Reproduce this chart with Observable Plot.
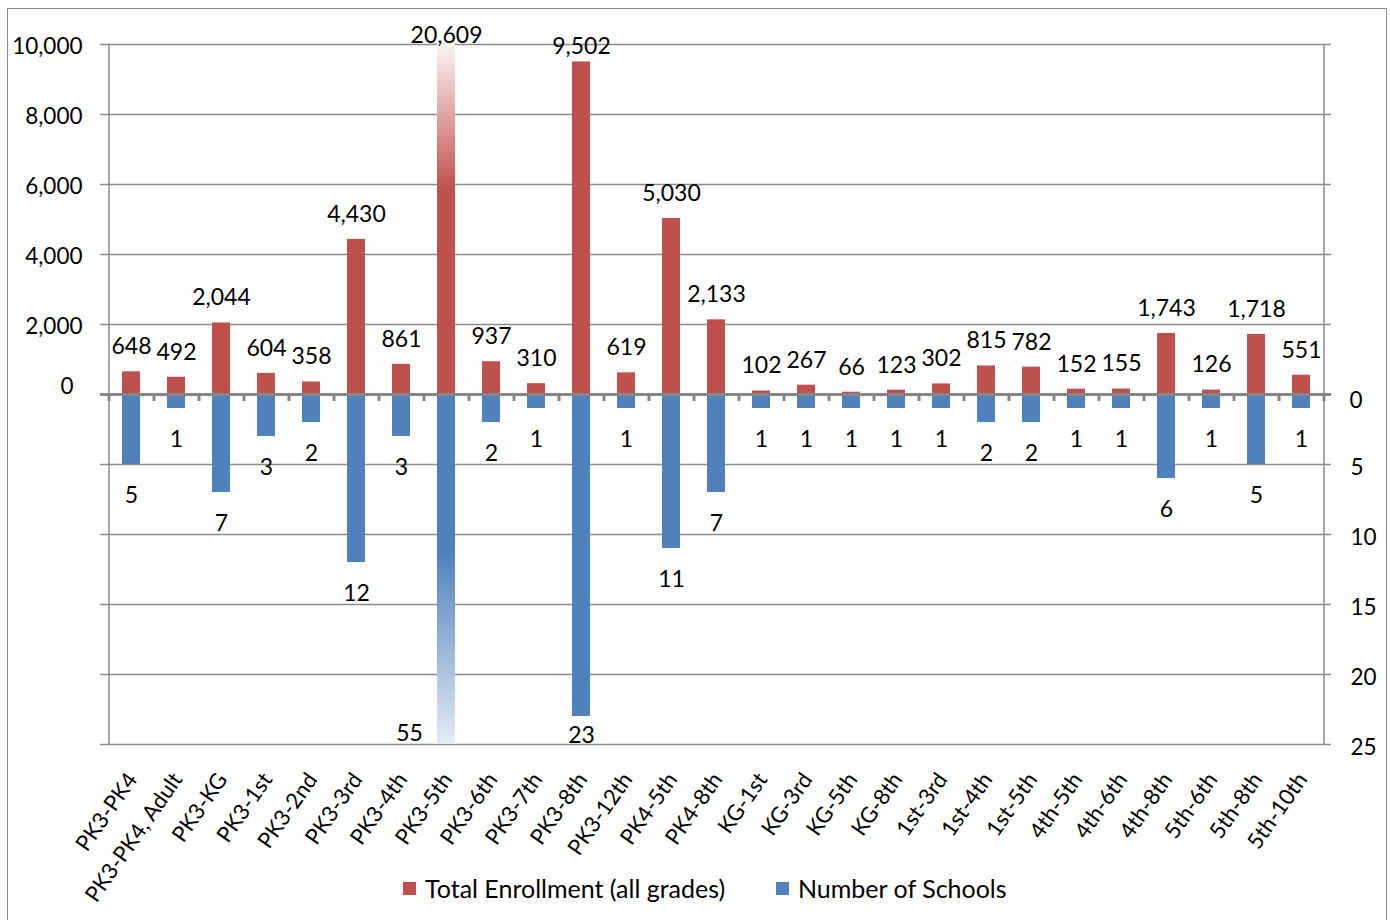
<!DOCTYPE html>
<html>
<head>
<meta charset="utf-8">
<script src="https://cdn.jsdelivr.net/npm/d3@7"></script>
<script src="https://cdn.jsdelivr.net/npm/@observablehq/plot@0.6"></script>
<style>
  html, body { margin: 0; padding: 0; background: #fff; }
  #wrap { position: relative; width: 1390px; height: 920px; overflow: hidden; font-family: Lato, "Open Sans", sans-serif; }
  #border { position: absolute; left: 7px; top: 8px; width: 1380px; height: 940px; border: 1.5px solid #8c8c8c; box-sizing: border-box; pointer-events: none; }
  #chart { position: absolute; left: 0; top: 0; }
  .lg-swatch { position: absolute; width: 13px; height: 13px; }
  .lg-text { position: absolute; font-size: 25px; line-height: 26px; color: #000; white-space: nowrap; }
</style>
</head>
<body>
<div id="wrap">
  <div id="chart"></div>
  <div id="legend"></div>
  <div id="border"></div>
</div>
<script>
// ---------- data ----------
const categories = ["PK3-PK4", "PK3-PK4, Adult", "PK3-KG", "PK3-1st", "PK3-2nd", "PK3-3rd", "PK3-4th",
  "PK3-5th", "PK3-6th", "PK3-7th", "PK3-8th", "PK3-12th", "PK4-5th", "PK4-8th", "KG-1st", "KG-3rd",
  "KG-5th", "KG-8th", "1st-3rd", "1st-4th", "1st-5th", "4th-5th", "4th-6th", "4th-8th", "5th-6th",
  "5th-8th", "5th-10th"];
const enrollment = [648, 492, 2044, 604, 358, 4430, 861, 20609, 937, 310, 9502, 619, 5030, 2133, 102,
  267, 66, 123, 302, 815, 782, 152, 155, 1743, 126, 1718, 551];
const schools = [5, 1, 7, 3, 2, 12, 3, 55, 2, 1, 23, 1, 11, 7, 1, 1, 1, 1, 1, 2, 2, 1, 1, 6, 1, 5, 1];
const seriesNames = ["Total Enrollment (all grades)", "Number of Schools"];
const seriesColors = ["#C0504D", "#4F81BD"];
const leftTicks = [0, 2000, 4000, 6000, 8000, 10000];
const rightTicks = [0, 5, 10, 15, 20, 25];

// ---------- scales ----------
const ENR_MAX = 10000;            // left axis maximum
const SCH_MAX = 25;               // right axis maximum (drawn downward)
const UNIT = ENR_MAX / SCH_MAX;   // enrollment units per school on the shared y scale
const fmt = d3.format(",");

const data = categories.map((c, i) => ({cat: c, enr: enrollment[i], sch: schools[i]}));
const schY = s => -Math.min(s, SCH_MAX) * UNIT;
const enrY = e => Math.min(e, ENR_MAX);
const grid = [...leftTicks.filter(v => v !== 0), ...rightTicks.filter(v => v !== 0).map(v => -v * UNIT)];

// label groups (labels near the plot edge are kept inside it, as in the original)
const redNormal = data.filter(d => d.enr <= 9000);
const redNearTop = data.filter(d => d.enr > 9000 && d.enr <= ENR_MAX);
const redOver = data.filter(d => d.enr > ENR_MAX);
const blueNormal = data.filter(d => d.sch <= 20);
const blueNearBottom = data.filter(d => d.sch > 20 && d.sch <= SCH_MAX);
const blueOver = data.filter(d => d.sch > SCH_MAX);

const first = categories[0], last = categories[categories.length - 1];
const half = 22.5; // half of a band step, in px

const gridColor = "#8c8c8c";
const font = "Lato, 'Open Sans', sans-serif";

const plot = Plot.plot({
  width: 1390,
  height: 860,
  marginLeft: 108,
  marginRight: 67,
  marginTop: 44,
  marginBottom: 116,
  x: {domain: categories, paddingInner: 0.6, paddingOuter: 0.3, axis: null},
  y: {domain: [-ENR_MAX, ENR_MAX], axis: null},
  style: {fontFamily: font, fontSize: "23px", color: "#000", background: "transparent", overflow: "visible"},
  marks: [
    // gridlines
    Plot.ruleY(grid, {stroke: gridColor, strokeWidth: 1.5, insetLeft: -8, insetRight: -8}),
    // vertical axis lines
    Plot.ruleX([first], {y1: -ENR_MAX, y2: ENR_MAX, dx: -half, stroke: gridColor, strokeWidth: 1.5}),
    Plot.ruleX([last], {y1: -ENR_MAX, y2: ENR_MAX, dx: half, stroke: gridColor, strokeWidth: 1.5}),
    // enrollment bars
    Plot.barY(data.filter(d => d.enr <= ENR_MAX), {x: "cat", y1: 0, y2: d => enrY(d.enr), fill: seriesColors[0]}),
    Plot.barY(redOver, {x: "cat", y1: 0, y2: d => enrY(d.enr), fill: "url(#gradRed)"}),
    // school bars
    Plot.barY(data.filter(d => d.sch <= SCH_MAX), {x: "cat", y1: 0, y2: d => schY(d.sch), fill: seriesColors[1]}),
    Plot.barY(blueOver, {x: "cat", y1: 0, y2: d => schY(d.sch), fill: "url(#gradBlue)"}),
    // zero axis and its tick marks
    Plot.ruleY([0], {stroke: "#868686", strokeWidth: 3, insetLeft: -8, insetRight: -8}),
    Plot.ruleX(categories, {y1: 0, y2: -200, dx: -half, stroke: "#868686", strokeWidth: 3}),
    Plot.ruleX([last], {y1: 0, y2: -200, dx: half, stroke: "#868686", strokeWidth: 3}),
    // value labels
    Plot.text(redNormal, {x: "cat", y: d => enrY(d.enr), text: d => fmt(d.enr), dy: -25}),
    Plot.text(redNearTop, {x: "cat", y: () => ENR_MAX, text: d => fmt(d.enr), dy: 2.5}),
    Plot.text(redOver, {x: "cat", y: d => enrY(d.enr), text: d => fmt(d.enr), dy: -9}),
    Plot.text(blueNormal, {x: "cat", y: d => schY(d.sch), text: d => fmt(d.sch), dy: 31}),
    Plot.text(blueNearBottom, {x: "cat", y: () => -ENR_MAX, text: d => fmt(d.sch), dy: -9}),
    Plot.text(blueOver, {x: "cat", y: d => schY(d.sch), text: d => fmt(d.sch), dx: -37, dy: -11}),
    // left axis labels
    Plot.text(leftTicks.filter(v => v !== 0), {y: d => d, text: d => fmt(d), frameAnchor: "left", textAnchor: "end", dx: -26, dy: 2, fontSize: 22.5}),
    Plot.text([0], {y: d => d, text: d => fmt(d), frameAnchor: "left", textAnchor: "end", dx: -35, dy: -7.5, fontSize: 22.5}),
    // right axis labels
    Plot.text(rightTicks.filter(v => v !== 0), {y: d => -d * UNIT, text: d => fmt(d), frameAnchor: "right", textAnchor: "start", dx: 27, dy: 3, fontSize: 22.5}),
    Plot.text([0], {y: d => -d * UNIT, text: d => fmt(d), frameAnchor: "right", textAnchor: "start", dx: 26, dy: 6.5, fontSize: 22.5}),
    // category labels
    Plot.text(categories, {x: d => d, frameAnchor: "bottom", text: d => d, rotate: -55, textAnchor: "end", lineAnchor: "middle", dx: 1, dy: 31, fontSize: 22})
  ]
});

// gradients for the bars that run past the axis ends
d3.select(plot).insert("defs", ":first-child").html(`
  <linearGradient id="gradRed" x1="0" y1="0" x2="0" y2="1">
    <stop offset="0" stop-color="#fdf4f4"/>
    <stop offset="0.42" stop-color="${seriesColors[0]}"/>
    <stop offset="1" stop-color="${seriesColors[0]}"/>
  </linearGradient>
  <linearGradient id="gradBlue" x1="0" y1="0" x2="0" y2="1">
    <stop offset="0" stop-color="${seriesColors[1]}"/>
    <stop offset="0.45" stop-color="${seriesColors[1]}"/>
    <stop offset="1" stop-color="#e4ebf5"/>
  </linearGradient>`);

document.getElementById("chart").appendChild(plot);

// legend
const legend = document.getElementById("legend");
const legendPos = [{sw: 403, tx: 425}, {sw: 776, tx: 798}];
seriesNames.forEach((name, i) => {
  const sw = document.createElement("div");
  sw.className = "lg-swatch";
  sw.style.left = legendPos[i].sw + "px";
  sw.style.top = "882px";
  sw.style.background = seriesColors[i];
  legend.appendChild(sw);
  const t = document.createElement("div");
  t.className = "lg-text";
  t.style.left = legendPos[i].tx + "px";
  t.style.top = "875px";
  t.textContent = name;
  legend.appendChild(t);
});
</script>
</body>
</html>
